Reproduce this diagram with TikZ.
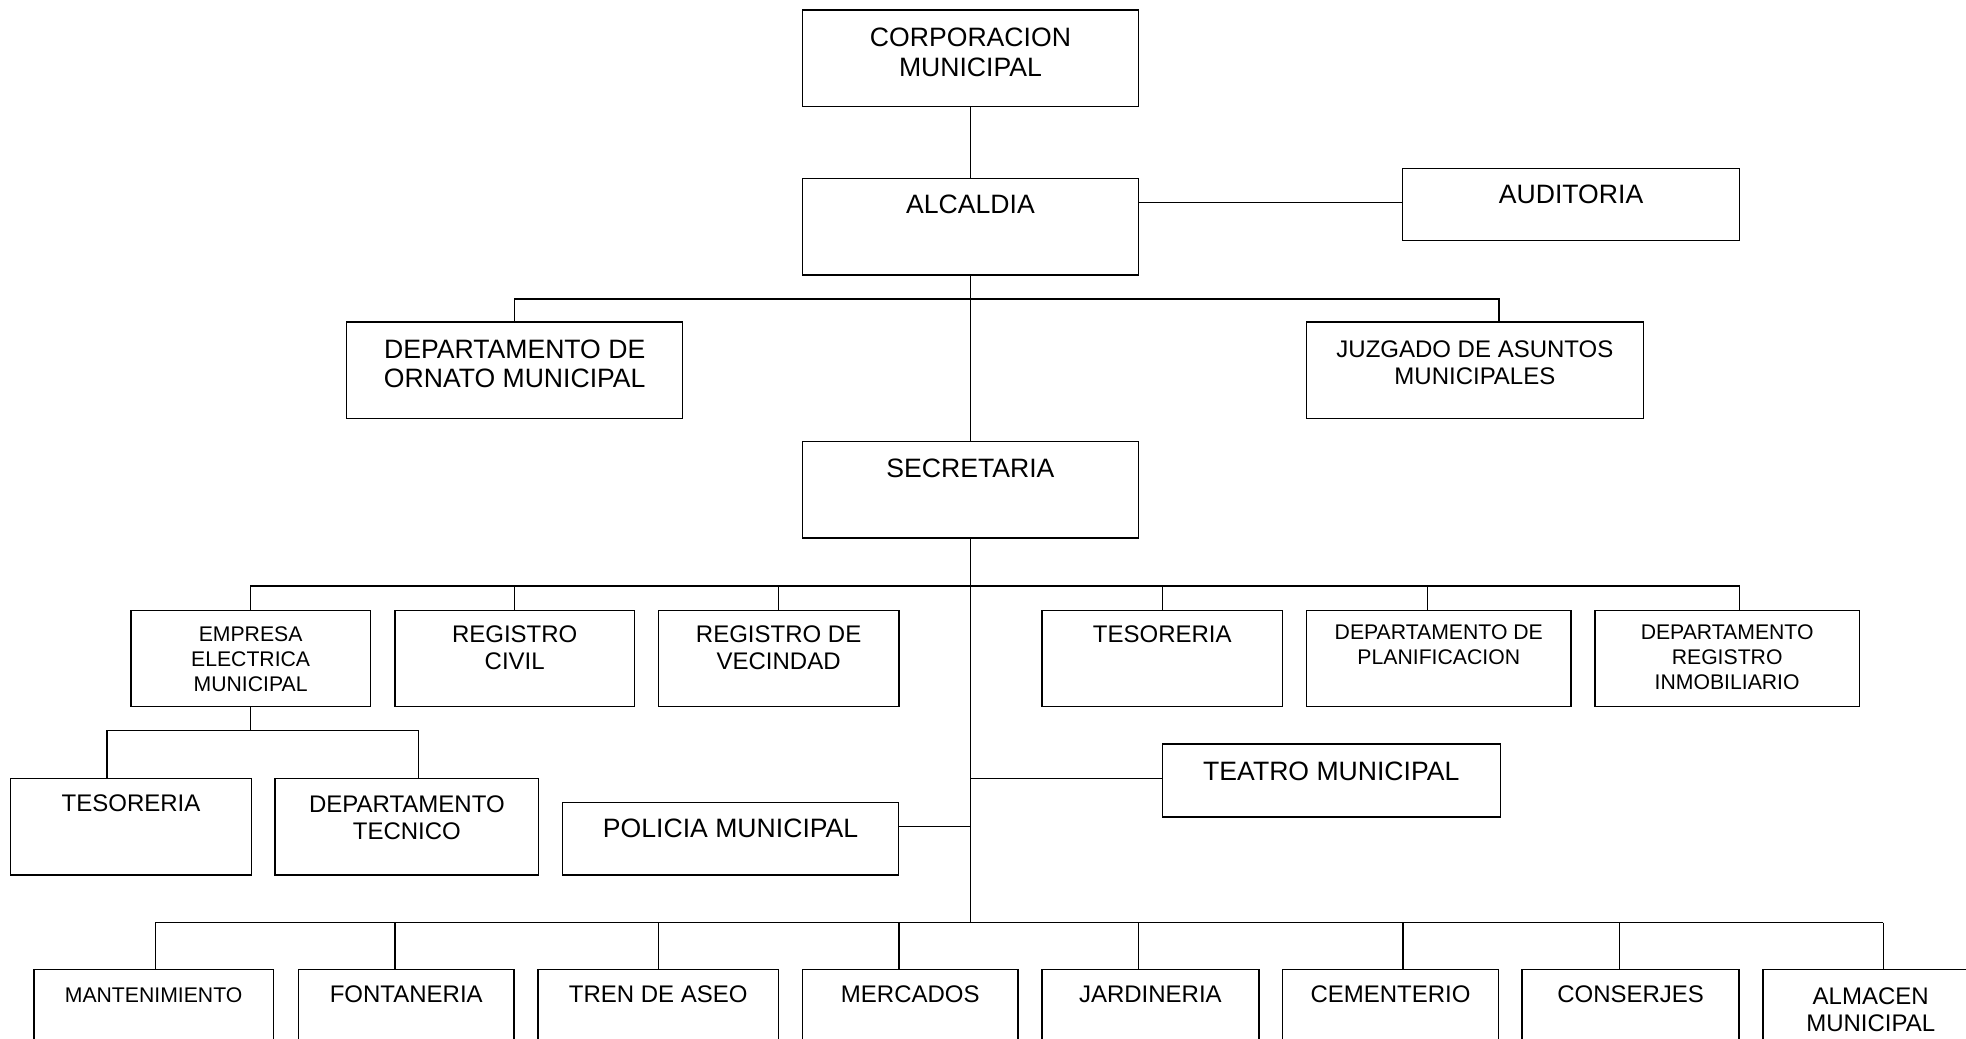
\documentclass[tikz,border=0pt]{standalone}
\usepackage{fontspec}
\setmainfont{Liberation Sans}
\newcommand\orgbox[5]{\node[box,minimum width=#4*0.6269pt,minimum height=#5*0.6269pt] (#1) at (#2,#3) {};}
\begin{document}
\begin{tikzpicture}[x=0.6269pt,y=-0.6269pt,
  box/.style={draw, line width=0.7pt, inner sep=0pt, rectangle, fill=white},
  ln/.style={line width=0.7pt},
  big/.style={font=\fontsize{13.3}{14.7}\selectfont, align=center, inner sep=0pt, anchor=north},
  med/.style={font=\fontsize{12}{13.5}\selectfont, align=center, inner sep=0pt, anchor=north},
  sml/.style={font=\fontsize{10.6}{12.4}\selectfont, align=center, inner sep=0pt, anchor=north}]
\useasboundingbox (0,0) rectangle (1568,828);
\clip (0,0) rectangle (1568,828);
\fill[white] (0,0) rectangle (1568,828);

% ---------- boxes ----------
\orgbox{corp}{774}{46.5}{268}{77}
\orgbox{alc}{774}{180.7}{268}{77}
\orgbox{aud}{1253}{163.1}{268.4}{57.7}
\orgbox{orn}{410.5}{295.3}{268}{76.7}
\orgbox{juz}{1176.3}{295.3}{268.6}{76.7}
\orgbox{sec}{774}{390.5}{268}{77}
% row 2
\orgbox{emp}{199.9}{525.3}{191}{76.6}
\orgbox{rc}{410.5}{525.3}{191}{76.6}
\orgbox{rv}{621}{525.3}{192}{76.6}
\orgbox{tes}{927}{525.3}{192}{76.6}
\orgbox{plan}{1147.5}{525.3}{211}{76.6}
\orgbox{inm}{1377.5}{525.3}{211}{76.6}
% row 3
\orgbox{tesb}{104.5}{659.5}{192}{77}
\orgbox{tec}{324.5}{659.5}{210.4}{77}
\orgbox{teatro}{1061.8}{622.6}{269.4}{58.3}
\orgbox{pol}{582.7}{669}{268.2}{57.7}
% bottom row
\orgbox{mant}{122.5}{811.6}{191}{77}
\orgbox{font}{324}{811.6}{172}{77}
\orgbox{tren}{525}{811.6}{192}{77}
\orgbox{merc}{726}{811.6}{172}{77}
\orgbox{jard}{917.5}{811.6}{173}{77}
\orgbox{cem}{1109}{811.6}{172}{77}
\orgbox{cons}{1300.5}{811.6}{173}{77}
\orgbox{alm}{1492}{811.6}{172}{77}

% ---------- texts ----------
\node[big] (corpt) at (774,22.2) {CORPORACION\\MUNICIPAL};
\node[big] (alct) at (774,155.1) {ALCALDIA};
\node[big] (audt) at (1253,147.4) {AUDITORIA};
\node[big] (ornt) at (410.5,270.5) {DEPARTAMENTO DE\\ORNATO MUNICIPAL};
\node[med,font=\fontsize{12}{13.4}\selectfont] (juzt) at (1176.3,271.7) {JUZGADO DE ASUNTOS\\MUNICIPALES};
\node[big] (sect) at (774,366) {SECRETARIA};
\node[sml] (empt) at (199.9,499.6) {EMPRESA\\ELECTRICA\\MUNICIPAL};
\node[med] (rct) at (410.5,499) {REGISTRO\\CIVIL};
\node[med] (rvt) at (621,499) {REGISTRO DE\\VECINDAD};
\node[med] (test) at (927,499) {TESORERIA};
\node[sml] (plant) at (1147.5,498.2) {DEPARTAMENTO DE\\PLANIFICACION};
\node[sml] (inmt) at (1377.5,498.2) {DEPARTAMENTO\\REGISTRO\\INMOBILIARIO};
\node[med] (tesbt) at (104.5,633.2) {TESORERIA};
\node[med,font=\fontsize{12}{13.4}\selectfont] (tect) at (324.5,634.2) {DEPARTAMENTO\\TECNICO};
\node[big] (teatrot) at (1061.8,607) {TEATRO MUNICIPAL};
\node[big] (polt) at (582.7,653.1) {POLICIA MUNICIPAL};
\node[sml] (mantt) at (122.5,787.5) {MANTENIMIENTO};
\node[med] (fontt) at (324,786.2) {FONTANERIA};
\node[med] (trent) at (525,786.2) {TREN DE ASEO};
\node[med] (merct) at (726,786.2) {MERCADOS};
\node[med] (jardt) at (917.5,786.2) {JARDINERIA};
\node[med] (cemt) at (1109,786.2) {CEMENTERIO};
\node[med] (const) at (1300.5,786.2) {CONSERJES};
\node[med,font=\fontsize{12}{13.8}\selectfont] (almt) at (1492,787.2) {ALMACEN\\MUNICIPAL};

% ---------- connectors ----------
\draw[ln] (corp.south) -- (alc.north);
\coordinate (audj) at (1119,161.4);
\draw[ln] (audj -| alc.east) -- (audj -| aud.west);
\draw[ln] (alc.south) -- (sec.north);
\coordinate (b1l) at (410.5,238.5);
\coordinate (b1r) at (1195.6,238.5);
\draw[ln] (b1l |- orn.north) -- (b1l) -- (b1r) -- (b1r |- juz.north);

% secretaria trunk down to bottom bus
\coordinate (b3) at (774,735.9);
\draw[ln] (sec.south) -- (sec.south |- b3);

% row 2 bus
\coordinate (b2l) at (199.9,467.4);
\coordinate (b2r) at (1387.5,467.4);
\coordinate (b2p) at (1138.3,467.4);
\draw[ln] (b2l |- emp.north) -- (b2l) -- (b2r) -- (b2r |- inm.north);
\draw[ln] (rc.north) -- (rc.north |- b2l);
\draw[ln] (rv.north) -- (rv.north |- b2l);
\draw[ln] (tes.north) -- (tes.north |- b2l);
\draw[ln] (b2p) -- (b2p |- plan.north);

% empresa sub-bus
\coordinate (s1l) at (85.2,582.8);
\coordinate (s1r) at (334,582.8);
\draw[ln] (emp.south) -- (emp.south |- s1l);
\draw[ln] (s1l |- tesb.north) -- (s1l) -- (s1r) -- (s1r |- tec.north);

% teatro and policia
\coordinate (tj) at (774,620.7);
\draw[ln] (tj) -- (tj -| teatro.west);
\coordinate (pj) at (774,659.3);
\draw[ln] (pj -| pol.east) -- (pj);

% bottom bus
\coordinate (d1) at (124,735.9);
\coordinate (d2) at (315,735.9);
\coordinate (d3) at (525,735.9);
\coordinate (d4) at (717,735.9);
\coordinate (d5) at (908,735.9);
\coordinate (d6) at (1119,735.9);
\coordinate (d7) at (1291.5,735.9);
\coordinate (d8) at (1502,735.9);
\draw[ln] (d1) -- (d8);
\draw[ln] (d1) -- (d1 |- mant.north);
\draw[ln] (d2) -- (d2 |- font.north);
\draw[ln] (d3) -- (d3 |- tren.north);
\draw[ln] (d4) -- (d4 |- merc.north);
\draw[ln] (d5) -- (d5 |- jard.north);
\draw[ln] (d6) -- (d6 |- cem.north);
\draw[ln] (d7) -- (d7 |- cons.north);
\draw[ln] (d8) -- (d8 |- alm.north);
\end{tikzpicture}
\end{document}
